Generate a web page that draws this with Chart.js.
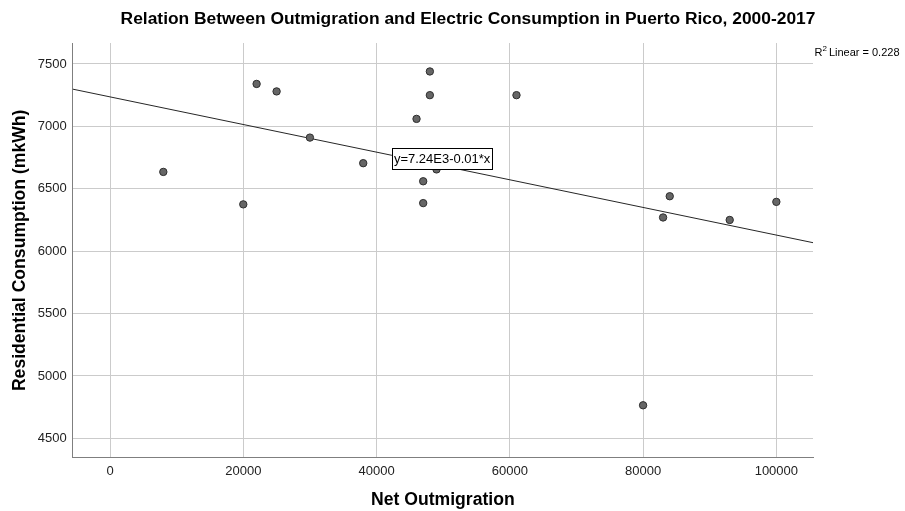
<!DOCTYPE html>
<html>
<head>
<meta charset="utf-8">
<script src="https://cdn.jsdelivr.net/npm/chart.js@4.4.1/dist/chart.umd.min.js"></script>
<style>
  html, body { margin: 0; padding: 0; background: #ffffff; }
  #wrap { width: 905px; height: 511px; position: relative; }
</style>
</head>
<body>
<div id="wrap"><canvas id="chart" width="905" height="511"></canvas></div>
<script>
// Puerto Rico, 2000-2017: net outmigration vs residential electric consumption
const netOutmigration = [8000, 20000, 22000, 25000, 30000, 38000, 46000, 47000, 47000,
                         48000, 48000, 49000, 61000, 80000, 83000, 84000, 93000, 100000];
const residentialConsumption = [6635, 6375, 7340, 7280, 6910, 6705, 7060, 6560, 6385,
                                7440, 7250, 6655, 7250, 4765, 6270, 6440, 6250, 6395];
const xTickValues = [0, 20000, 40000, 60000, 80000, 100000];
const yTickValues = [4500, 5000, 5500, 6000, 6500, 7000, 7500];

const titleText = 'Relation Between Outmigration and Electric Consumption in Puerto Rico, 2000-2017';
const xAxisTitle = 'Net Outmigration';
const yAxisTitle = 'Residential Consumption (mkWh)';

const FONT = "'Liberation Sans', Arial, Helvetica, sans-serif";
const X_MIN = -5600, X_MAX = 105500, Y_MIN = 4345, Y_MAX = 7668;

// Ordinary least-squares fit of consumption on outmigration
function linearFit(xs, ys) {
  const n = xs.length;
  const mx = xs.reduce((a, b) => a + b, 0) / n;
  const my = ys.reduce((a, b) => a + b, 0) / n;
  let sxx = 0, sxy = 0, syy = 0;
  for (let i = 0; i < n; i++) {
    const dx = xs[i] - mx, dy = ys[i] - my;
    sxx += dx * dx; sxy += dx * dy; syy += dy * dy;
  }
  const slope = sxy / sxx;
  return { slope, intercept: my - slope * mx, r2: (sxy * sxy) / (sxx * syy) };
}
const fit = linearFit(netOutmigration, residentialConsumption);

const points = netOutmigration.map((x, i) => ({ x, y: residentialConsumption[i] }));
const fitLine = [X_MIN, X_MAX].map(x => ({ x, y: fit.intercept + fit.slope * x }));

function equationLabel(f) {
  const exp = Math.floor(Math.log10(Math.abs(f.intercept)));
  const mant = (f.intercept / Math.pow(10, exp)).toFixed(2);
  const sign = f.slope < 0 ? '-' : '+';
  return 'y=' + mant + 'E' + exp + sign + Math.abs(f.slope).toFixed(2) + '*x';
}

// Titles, R² note and the fit-equation box
const annotations = {
  id: 'annotations',
  afterDatasetsDraw(chart) {
    const { ctx, chartArea, scales } = chart;
    ctx.save();
    ctx.fillStyle = '#000';
    ctx.textAlign = 'center';
    ctx.textBaseline = 'middle';
    ctx.font = 'bold 17.4px ' + FONT;
    ctx.fillText(titleText, 468, 19);

    ctx.font = 'bold 17.6px ' + FONT;
    ctx.fillText(xAxisTitle, (chartArea.left + chartArea.right) / 2, 500);
    ctx.save();
    ctx.translate(20, (chartArea.top + chartArea.bottom) / 2);
    ctx.rotate(-Math.PI / 2);
    ctx.fillText(yAxisTitle, 0, 0);
    ctx.restore();

    // R² Linear note beside the top-right corner
    ctx.textAlign = 'left';
    ctx.font = '11px ' + FONT;
    let x = chartArea.right + 1.5;
    const y = 53;
    ctx.fillText('R', x, y);
    x += ctx.measureText('R').width;
    ctx.font = '8px ' + FONT;
    ctx.fillText('2', x, y - 4);
    x += ctx.measureText('2').width + 2;
    ctx.font = '11px ' + FONT;
    ctx.fillText('Linear = ' + fit.r2.toFixed(3), x, y);

    // Equation box
    const label = equationLabel(fit);
    ctx.font = '13px ' + FONT;
    const bx = scales.x.getPixelForValue(42300);
    const by = scales.y.getPixelForValue(6742);
    const w = ctx.measureText(label).width + 4;
    const h = 21;
    ctx.fillStyle = '#fff';
    ctx.fillRect(bx, by - h / 2, w, h);
    ctx.strokeStyle = '#000';
    ctx.lineWidth = 1;
    ctx.strokeRect(Math.round(bx) + 0.5, Math.round(by - h / 2) + 0.5, Math.round(w), h);
    ctx.fillStyle = '#000';
    ctx.fillText(label, bx + 2, by + 1);
    ctx.restore();
  }
};

new Chart(document.getElementById('chart'), {
  data: {
    datasets: [
      {
        type: 'scatter',
        label: 'Observed',
        data: points,
        pointRadius: 3.7,
        pointHoverRadius: 3.7,
        pointBackgroundColor: '#666666',
        pointBorderColor: '#2e2e2e',
        pointBorderWidth: 1,
        order: 1
      },
      {
        type: 'line',
        label: 'Fit',
        data: fitLine,
        borderColor: '#262626',
        borderWidth: 1,
        pointRadius: 0,
        fill: false,
        order: 2
      }
    ]
  },
  options: {
    responsive: false,
    animation: false,
    events: [],
    layout: { padding: { top: 43, right: 92, left: 0, bottom: 0 } },
    plugins: { legend: { display: false }, tooltip: { enabled: false }, title: { display: false } },
    scales: {
      x: {
        type: 'linear',
        min: X_MIN,
        max: X_MAX,
        afterBuildTicks(scale) { scale.ticks = xTickValues.map(v => ({ value: v })); },
        afterFit(scale) { scale.height = 53.3; },
        ticks: {
          padding: 6,
          color: '#222',
          font: { family: FONT, size: 13 },
          maxRotation: 0,
          callback: v => String(v)
        },
        grid: { color: '#cbcbcb', lineWidth: 1, drawTicks: false },
        border: { display: true, color: '#7f7f7f', width: 1 }
      },
      y: {
        type: 'linear',
        min: Y_MIN,
        max: Y_MAX,
        afterBuildTicks(scale) { scale.ticks = yTickValues.map(v => ({ value: v })); },
        afterFit(scale) { scale.width = 72.7; },
        ticks: {
          padding: 6,
          color: '#222',
          font: { family: FONT, size: 13 },
          callback: v => String(v)
        },
        grid: { color: '#cbcbcb', lineWidth: 1, drawTicks: false },
        border: { display: true, color: '#7f7f7f', width: 1 }
      }
    }
  },
  plugins: [annotations]
});
</script>
</body>
</html>
